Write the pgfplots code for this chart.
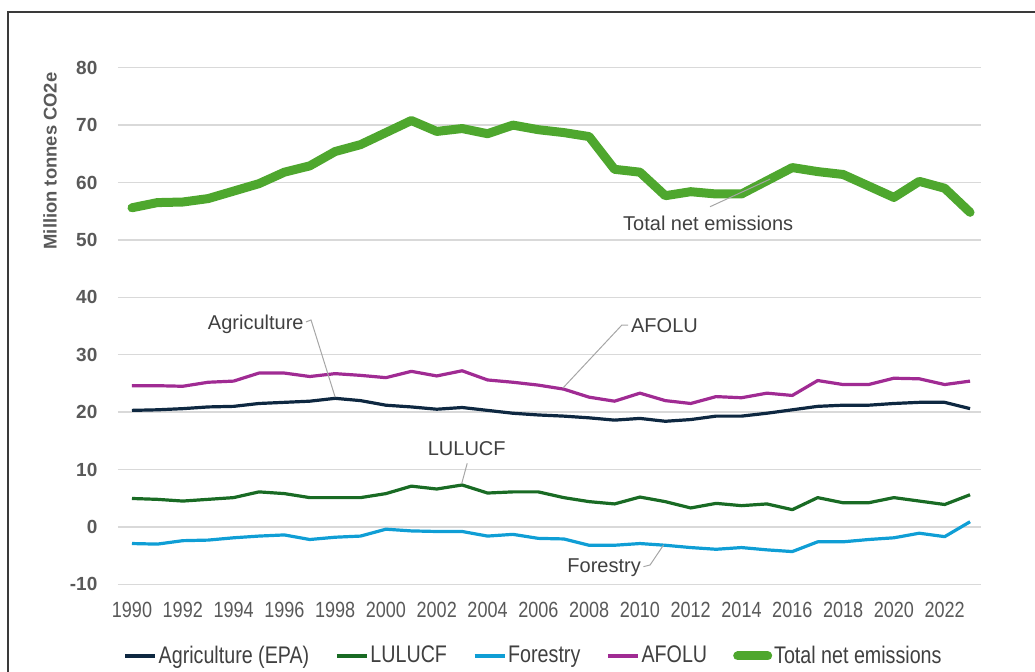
\documentclass[border=0pt]{standalone}
\usepackage{fontspec}
\setmainfont{Liberation Sans}
\newfontfamily\narrowfont[FakeStretch=0.82]{Liberation Sans}
\usepackage{pgfplots}
\pgfplotsset{compat=1.18}
\usepackage{pgfplotstable}

\definecolor{agri}{HTML}{0E2841}
\definecolor{lulucf}{HTML}{196B24}
\definecolor{forestry}{HTML}{0F9ED5}
\definecolor{afolu}{HTML}{A02B93}
\definecolor{totalnet}{HTML}{4EA72E}
\definecolor{gridgray}{HTML}{D9D9D9}
\definecolor{ticktext}{HTML}{595959}
\definecolor{annot}{HTML}{404040}
\definecolor{leadergray}{HTML}{A6A6A6}
\definecolor{frame}{HTML}{3A3A3A}

% Emissions by sector, million tonnes CO2e
\pgfplotstableread{
year agri lulucf forestry afolu total
1990 20.3 4.95 -2.9 24.6 55.6
1991 20.4 4.8  -3.0 24.6 56.5
1992 20.6 4.5  -2.4 24.5 56.6
1993 20.9 4.8  -2.3 25.2 57.2
1994 21.0 5.1  -1.9 25.4 58.5
1995 21.5 6.1  -1.6 26.8 59.8
1996 21.7 5.8  -1.4 26.8 61.8
1997 21.9 5.1  -2.2 26.2 62.9
1998 22.4 5.1  -1.8 26.7 65.4
1999 22.0 5.1  -1.6 26.4 66.6
2000 21.2 5.8  -0.4 26.0 68.7
2001 20.9 7.1  -0.7 27.1 70.8
2002 20.5 6.6  -0.8 26.3 68.9
2003 20.8 7.3  -0.8 27.2 69.4
2004 20.3 5.9  -1.6 25.6 68.5
2005 19.8 6.1  -1.3 25.2 70.0
2006 19.5 6.1  -2.0 24.7 69.2
2007 19.3 5.1  -2.1 24.0 68.7
2008 19.0 4.4  -3.2 22.6 68.0
2009 18.6 4.0  -3.2 21.9 62.3
2010 18.9 5.2  -2.9 23.3 61.8
2011 18.4 4.4  -3.2 22.0 57.7
2012 18.7 3.3  -3.6 21.5 58.4
2013 19.3 4.1  -3.9 22.7 58.0
2014 19.3 3.7  -3.6 22.5 58.0
2015 19.8 4.0  -4.0 23.3 60.3
2016 20.4 3.0  -4.3 22.9 62.6
2017 21.0 5.1  -2.6 25.5 61.9
2018 21.2 4.2  -2.6 24.8 61.4
2019 21.2 4.2  -2.2 24.8 59.4
2020 21.5 5.1  -1.9 25.9 57.4
2021 21.7 4.5  -1.1 25.8 60.2
2022 21.7 3.9  -1.7 24.8 59.0
2023 20.6 5.6   0.9 25.4 54.8
}\emissions

\begin{document}
\begin{tikzpicture}
\useasboundingbox (0,0) rectangle (517.5pt,-336pt);
% frame
\draw[line width=1pt, color=frame] (4pt,-336pt) -- (4pt,-6pt) -- (517.5pt,-6pt);

\begin{axis}[
  at={(59pt,-292.15pt)}, anchor=south west,
  scale only axis, width=431.5pt, height=258.3pt,
  xmin=1989.449, xmax=2023.43, ymin=-10, ymax=80,
  axis line style={draw=none},
  tick style={draw=none},
  major tick length=0pt,
  xtick={1990,1992,...,2022},
  ytick={-10,0,...,80},
  ymajorgrids,
  major grid style={gridgray, line width=0.75pt},
  /pgf/number format/assume math mode=true,
  /pgf/number format/1000 sep={},
  xticklabel style={font=\narrowfont\fontsize{11}{13}\selectfont, text=ticktext, yshift=-5.5pt},
  yticklabel style={font=\bfseries\fontsize{9.5}{11}\selectfont, text=ticktext, xshift=-6.8pt},
  ylabel={Million tonnes CO2e},
  ylabel style={at={(axis description cs:-0.0788,0.8194)}, anchor=center,
    font=\bfseries\fontsize{9.2}{11}\selectfont, text=ticktext},
  clip=false,
  legend columns=5,
  legend style={at={(0.4815,-0.1388)}, anchor=center, draw=none, fill=none,
    font=\narrowfont\fontsize{12}{14}\selectfont, text=annot,
    nodes={inner xsep=1pt},
    /tikz/every even column/.append style={column sep=12pt}},
  legend image code/.code={\draw[#1] (0pt,0pt) -- (15pt,0pt);},
  every axis plot/.append style={line join=round},
]
\addplot[agri, line width=1.6pt] table[x=year, y=agri] {\emissions};
\addlegendentry{Agriculture (EPA)}
\addplot[lulucf, line width=1.6pt] table[x=year, y=lulucf] {\emissions};
\addlegendentry{LULUCF}
\addplot[forestry, line width=1.6pt] table[x=year, y=forestry] {\emissions};
\addlegendentry{Forestry}
\addplot[afolu, line width=1.6pt] table[x=year, y=afolu] {\emissions};
\addlegendentry{AFOLU}
\addplot[totalnet, line width=4.5pt, line cap=round] table[x=year, y=total] {\emissions};
\addlegendentry{Total net emissions}

% series labels with leader lines
\tikzset{annot/.style={font=\fontsize{10}{12}\selectfont, text=annot, inner sep=1pt},
         leader/.style={leadergray, line width=0.5pt}}
\draw[leader] (axis cs:1996.85,35.7) -- (axis cs:1997.05,36.05) -- (axis cs:1998,22.6);
\node[annot, anchor=east] at (axis cs:1996.85,35.3) {Agriculture};
\draw[leader] (axis cs:2006.97,24.2) -- (axis cs:2009.29,35.17) -- (axis cs:2009.54,35.17);
\node[annot, anchor=west] at (axis cs:2009.56,35.1) {AFOLU};
\draw[leader] (axis cs:2012.76,55.78) -- (axis cs:2015.13,60.6);
\node[annot] at (axis cs:2012.69,52.8) {Total net emissions};
\draw[leader] (axis cs:2003.2,11.08) -- (axis cs:2002.98,7.5);
\node[annot] at (axis cs:2003.18,13.57) {LULUCF};
\draw[leader] (axis cs:2010.14,-6.93) -- (axis cs:2010.4,-6.64) -- (axis cs:2010.93,-3.15);
\node[annot] at (axis cs:2008.59,-7.16) {Forestry};
\end{axis}
\end{tikzpicture}
\end{document}
